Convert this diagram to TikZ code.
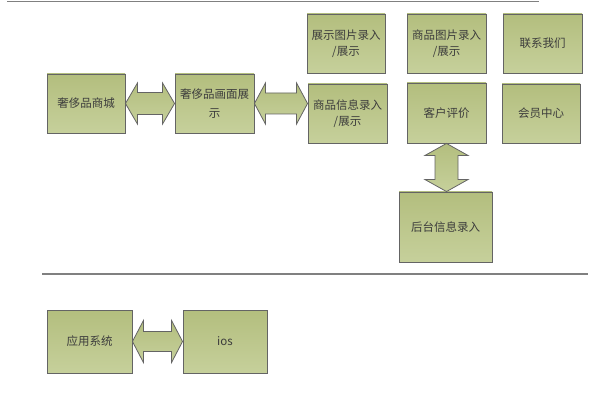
\documentclass[tikz,border=0pt]{standalone}
\usepackage{fontspec}
\setmainfont{Noto Sans CJK SC}
\usetikzlibrary{calc}
\definecolor{boxtop}{RGB}{179,190,126}
\definecolor{boxbot}{RGB}{198,208,155}
\definecolor{edgegray}{RGB}{100,100,100}
\definecolor{txtgray}{RGB}{60,60,60}
\definecolor{rulegray}{RGB}{128,128,128}
\tikzset{
  box/.style={draw=edgegray, line width=0.9pt, top color=boxtop, bottom color=boxbot,
    text=txtgray, font=\fontsize{11.5}{16}\selectfont, align=center, inner sep=0pt},
  blockarrow/.style={draw=edgegray, line width=0.8pt, top color=boxtop, bottom color=boxbot, line join=miter},
  rulerline/.style={draw=rulegray, line width=1.3pt}
}
% horizontal double block arrow: #1 left node, #2 right node, #3 head length, #4 outer half height, #5 shaft half height
\newcommand{\harr}[5]{%
  \path (#1.east) coordinate (#1-s) (#2.west |- #1.east) coordinate (#1-e);
  \draw[blockarrow] (#1-s) -- ++(#3,-#4) -- ++(0,#4-#5) -- ($(#1-e)+(-#3,-#5)$) -- ++(0,#5-#4) -- (#1-e)
    -- ++(-#3,#4) -- ++(0,#5-#4) -- ($(#1-s)+(#3,#5)$) -- ++(0,#4-#5) -- cycle;
}
\begin{document}
\begin{tikzpicture}[x=1pt,y=-1pt]
\useasboundingbox (0,0) rectangle (589,406);
\fill[white] (0,0) rectangle (589,406);
% rules
\coordinate (r1a) at (7,1.5); \coordinate (r1b) at (539,1.5);
\coordinate (r2a) at (42,274); \coordinate (r2b) at (588,274);
\draw[rulerline] (r1a) -- (r1b);
\draw[rulerline] (r2a) -- (r2b);
% boxes
\node[box, minimum width=78pt, minimum height=59pt] (A) at (86,103.5) {奢侈品商城};
\node[box, minimum width=79pt, minimum height=59pt] (B) at (214.5,103.5) {奢侈品画面展\\[3pt]示};
\node[box, minimum width=78pt, minimum height=59pt] (C) at (346,43.5) {展示图片录入\\/展示};
\node[box, minimum width=79pt, minimum height=59pt] (D) at (446.5,43.5) {商品图片录入\\/展示};
\node[box, minimum width=79pt, minimum height=59pt] (E) at (542.5,43.5) {联系我们};
\node[box, minimum width=79pt, minimum height=59pt] (F) at (347.5,113.5) {商品信息录入\\/展示};
\node[box, minimum width=79pt, minimum height=60pt] (G) at (446.5,113) {客户评价};
\node[box, minimum width=78pt, minimum height=59pt] (H) at (541,113.5) {会员中心};
\node[box, minimum width=93pt, minimum height=70pt] (I) at (445.5,227) {后台信息录入};
\node[box, minimum width=85pt, minimum height=63pt] (J) at (89.5,341.5) {应用系统};
\node[box, minimum width=84pt, minimum height=63pt] (K) at (225,341.5) {ios};
% block arrows
\harr{A}{B}{12}{20.5}{11}
\harr{B}{F}{11}{20.5}{10.5}
\harr{J}{K}{11}{21}{10}
\path (G.south) coordinate (vs) (G.south |- I.north) coordinate (ve);
\draw[blockarrow] (vs) -- ++(21.5,12) -- ++(-10,0) -- ($(ve)+(11.5,-12)$) -- ++(10,0) -- (ve)
  -- ++(-21.5,-12) -- ++(10,0) -- ($(vs)+(-11.5,12)$) -- ++(-10,0) -- cycle;
\end{tikzpicture}
\end{document}
